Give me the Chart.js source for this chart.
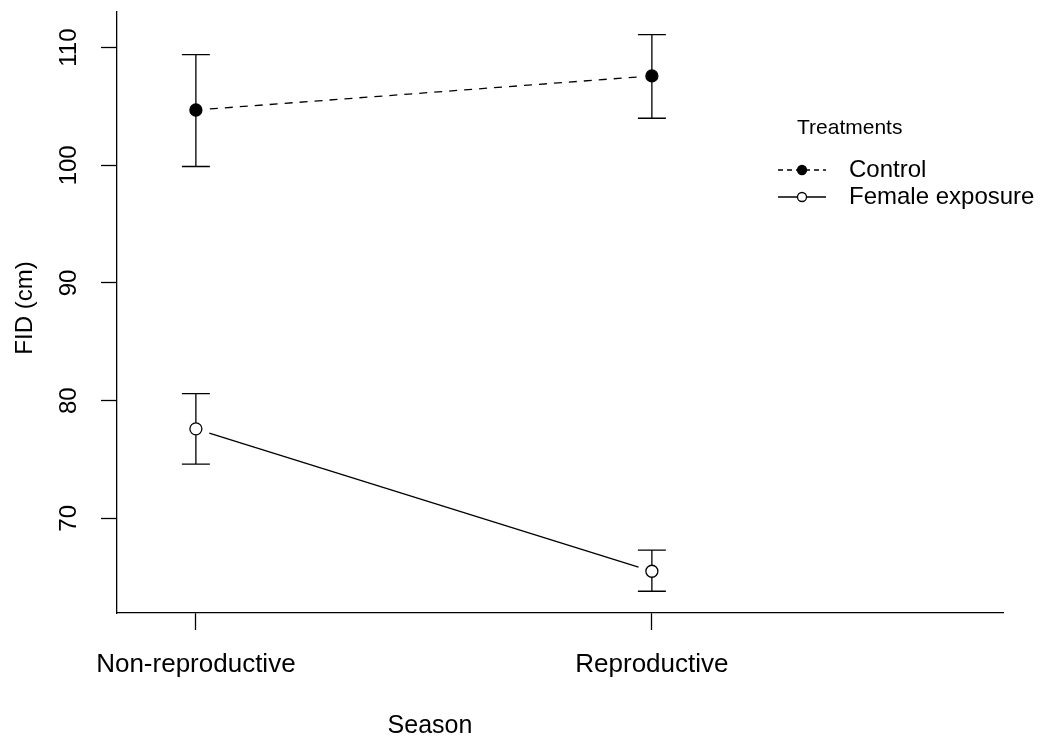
<!DOCTYPE html>
<html>
<head>
<meta charset="utf-8">
<script src="https://cdn.jsdelivr.net/npm/chart.js@4/dist/chart.umd.min.js"></script>
<style>
    html, body { margin: 0; padding: 0; background: #fff; }
    canvas { display: block; }
</style>
</head>
<body>
<canvas id="graph" width="1050" height="739"></canvas>
<script>
const seasons = ['Non-reproductive', 'Reproductive'];
const treatments = ['Control', 'Female exposure'];

const controlMean = [104.7, 107.6];
const controlLow = [99.9, 104.0];
const controlHigh = [109.4, 111.1];

const femaleMean = [77.6, 65.5];
const femaleLow = [74.6, 63.8];
const femaleHigh = [80.6, 67.3];

const yTicks = [70, 80, 90, 100, 110];

const FONT = '"Liberation Sans", Arial, sans-serif';

const series = [
    { label: treatments[0], mean: controlMean, low: controlLow, high: controlHigh, filled: true, dash: [8, 7] },
    { label: treatments[1], mean: femaleMean, low: femaleLow, high: femaleHigh, filled: false, dash: [] }
];

// error bars and the "type b" connecting lines (with a gap round each point)
const rStylePlugin = {
    id: 'rStyle',
    beforeDatasetsDraw(chart) {
        const { ctx, scales: { x, y } } = chart;
        ctx.save();
        ctx.strokeStyle = '#000';
        ctx.lineWidth = 1.3;
        const gap = 14;
        for (const s of series) {
            s.mean.forEach((m, i) => {
                const px = x.getPixelForValue(i + 1);
                const top = y.getPixelForValue(s.high[i]);
                const bot = y.getPixelForValue(s.low[i]);
                ctx.beginPath();
                ctx.moveTo(px, top);
                ctx.lineTo(px, bot);
                ctx.moveTo(px - 14, top);
                ctx.lineTo(px + 14, top);
                ctx.moveTo(px - 14, bot);
                ctx.lineTo(px + 14, bot);
                ctx.stroke();
            });
            ctx.setLineDash(s.dash);
            for (let i = 0; i < s.mean.length - 1; i++) {
                const x0 = x.getPixelForValue(i + 1), y0 = y.getPixelForValue(s.mean[i]);
                const x1 = x.getPixelForValue(i + 2), y1 = y.getPixelForValue(s.mean[i + 1]);
                const len = Math.hypot(x1 - x0, y1 - y0);
                const ux = (x1 - x0) / len, uy = (y1 - y0) / len;
                ctx.beginPath();
                ctx.moveTo(x0 + ux * gap, y0 + uy * gap);
                ctx.lineTo(x1 - ux * gap, y1 - uy * gap);
                ctx.stroke();
            }
            ctx.setLineDash([]);
        }
        ctx.restore();
    },
    afterDraw(chart) {
        const { ctx, scales: { y } } = chart;
        ctx.save();
        ctx.fillStyle = '#000';

        // rotated y tick labels
        ctx.font = '24px ' + FONT;
        ctx.textAlign = 'center';
        ctx.textBaseline = 'middle';
        for (const t of yTicks) {
            ctx.save();
            ctx.translate(69, y.getPixelForValue(t));
            ctx.rotate(-Math.PI / 2);
            ctx.fillText(String(t), 0, 0);
            ctx.restore();
        }

        // axis titles
        ctx.save();
        ctx.translate(25, 308);
        ctx.rotate(-Math.PI / 2);
        ctx.fillText('FID (cm)', 0, 0);
        ctx.restore();
        ctx.font = '25px ' + FONT;
        ctx.fillText('Season', 430, 726);

        // legend
        ctx.textAlign = 'left';
        ctx.font = '21px ' + FONT;
        ctx.fillText('Treatments', 797, 128);
        ctx.font = '24px ' + FONT;
        const rows = [170, 197];
        series.forEach((s, i) => {
            const ly = rows[i];
            ctx.strokeStyle = '#000';
            ctx.lineWidth = 1.3;
            ctx.setLineDash(s.dash.length ? [5, 4] : []);
            ctx.beginPath();
            ctx.moveTo(778, ly);
            ctx.lineTo(826, ly);
            ctx.stroke();
            ctx.setLineDash([]);
            ctx.beginPath();
            ctx.arc(802, ly, 4.5, 0, Math.PI * 2);
            ctx.fillStyle = s.filled ? '#000' : '#fff';
            ctx.fill();
            ctx.stroke();
            ctx.fillStyle = '#000';
            ctx.fillText(s.label, 849, ly);
        });
        ctx.restore();
    }
};

const datasets = series.map(s => ({
    label: s.label,
    data: s.mean.map((m, i) => ({ x: i + 1, y: m })),
    showLine: false,
    pointRadius: 6,
    pointHoverRadius: 6,
    pointBorderWidth: 1.3,
    pointBorderColor: '#000',
    pointBackgroundColor: s.filled ? '#000' : '#fff'
}));

new Chart(document.getElementById('graph'), {
    type: 'scatter',
    data: { datasets },
    plugins: [rStylePlugin],
    options: {
        responsive: false,
        animation: false,
        devicePixelRatio: 1,
        layout: { padding: { left: 0, top: 12, right: 47, bottom: 0 } },
        plugins: {
            legend: { display: false },
            tooltip: { enabled: false }
        },
        scales: {
            x: {
                type: 'linear',
                min: 0.827,
                max: 2.77,
                afterBuildTicks: scale => { scale.ticks = seasons.map((s, i) => ({ value: i + 1 })); },
                afterFit: scale => { scale.height = 126; },
                border: { display: true, color: '#000', width: 1.3 },
                grid: { drawOnChartArea: false, drawTicks: true, tickLength: 17, tickColor: '#000', tickWidth: 1.3 },
                ticks: {
                    autoSkip: false,
                    maxRotation: 0,
                    padding: 19,
                    color: '#000',
                    font: { family: FONT, size: 26 },
                    callback: v => seasons[v - 1]
                }
            },
            y: {
                type: 'linear',
                min: 61.95,
                max: 113.03,
                afterBuildTicks: scale => { scale.ticks = yTicks.map(v => ({ value: v })); },
                afterFit: scale => { scale.width = 117; },
                border: { display: true, color: '#000', width: 1.3 },
                grid: { drawOnChartArea: false, drawTicks: true, tickLength: 16, tickColor: '#000', tickWidth: 1.3 },
                ticks: { display: false }
            }
        }
    }
});
</script>
</body>
</html>
